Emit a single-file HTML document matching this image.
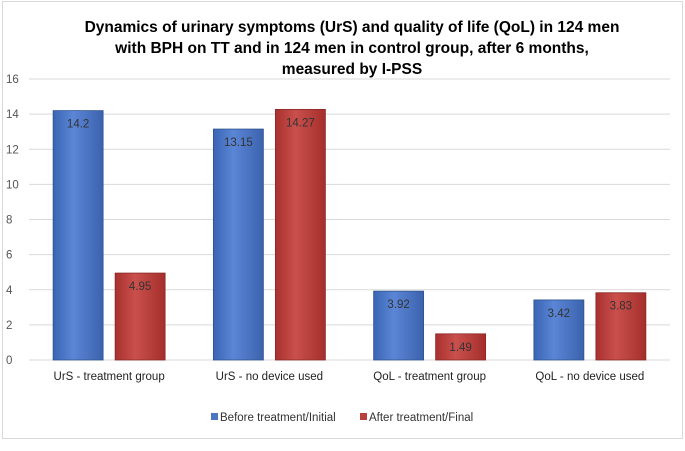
<!DOCTYPE html>
<html><head><meta charset="utf-8"><style>
body{margin:0;background:#fff;font-family:"Liberation Sans",sans-serif}
svg text{font-family:"Liberation Sans",sans-serif}
</style></head><body>
<svg id="c" width="685" height="446" viewBox="0 0 685 446">
<defs>
<linearGradient id="gb" x1="0" x2="1"><stop offset="0" stop-color="#3a64b4"/><stop offset="0.4" stop-color="#5b86d6"/><stop offset="1" stop-color="#3b62ad"/></linearGradient>
<linearGradient id="gr" x1="0" x2="1"><stop offset="0" stop-color="#a8302e"/><stop offset="0.4" stop-color="#c9504c"/><stop offset="1" stop-color="#a52e2c"/></linearGradient>
</defs>
<rect x="2.5" y="1.5" width="680" height="437" fill="#fff" stroke="#d9d9d9"/>
<g font-weight="bold" font-size="15.5" text-anchor="middle" fill="#000">
<text x="352" y="32">Dynamics of urinary symptoms (UrS) and quality of life (QoL) in 124 men</text>
<text x="352" y="53">with BPH on TT and in 124 men in control group, after 6 months,</text>
<text x="352" y="74">measured by I-PSS</text>
</g>
<g id="grid"></g><g id="bars"></g><g id="labels"></g>
<g font-size="11.5" fill="#333">
<rect x="211" y="413" width="7" height="7" fill="#4a74c4"/>
<text x="220" y="421">Before treatment/Initial</text>
<rect x="360" y="413" width="7" height="7" fill="#b8403d"/>
<text x="369" y="421">After treatment/Final</text>
</g>
</svg>
<script>
const categories=["UrS - treatment group","UrS - no device used","QoL - treatment group","QoL - no device used"];
const before=[14.2,13.15,3.92,3.42];
const after=[4.95,14.27,1.49,3.83];
const ticks=[0,2,4,6,8,10,12,14,16];
const NS="http://www.w3.org/2000/svg";
const x0=29,x1=670,y0=360,y16=79;
const y=v=>y0-(y0-y16)*v/16;
const band=(x1-x0)/categories.length;
function mk(t,a,p){const e=document.createElementNS(NS,t);for(const k in a)e.setAttribute(k,a[k]);p.appendChild(e);return e;}
const g=document.getElementById('grid'),b=document.getElementById('bars'),l=document.getElementById('labels');
ticks.forEach(t=>{
 const ln=mk('line',{x1:x0,x2:x1,y1:y(t),y2:y(t),stroke:'#d9d9d9'},g);
 
 
 const tx=mk('text',{x:6,y:y(t)+4,'font-size':'11.5',fill:'#555'},g);tx.textContent=t;
 
 
});
categories.forEach((c,i)=>{
 const cx=x0+band*(i+0.5);
 [[before[i],'url(#gb)',cx-56,'before'],[after[i],'url(#gr)',cx+6,'after']].forEach(([v,f,bx,s])=>{
  const r=mk('rect',{x:bx,y:y(v),width:50,height:y0-y(v),fill:f,stroke:s=='before'?'#2f528f':'#8a2826','stroke-width':'0.8'},b);
  
  
  const t=mk('text',{x:bx+25,y:y(v)+17,'font-size':'11.5','text-anchor':'middle',fill:'#333'},b);t.textContent=v;
  
  
 });
 const t=mk('text',{x:cx,y:380,'font-size':'11.5','text-anchor':'middle',fill:'#222'},l);t.textContent=c;
 
 
});
</script>
</body></html>
